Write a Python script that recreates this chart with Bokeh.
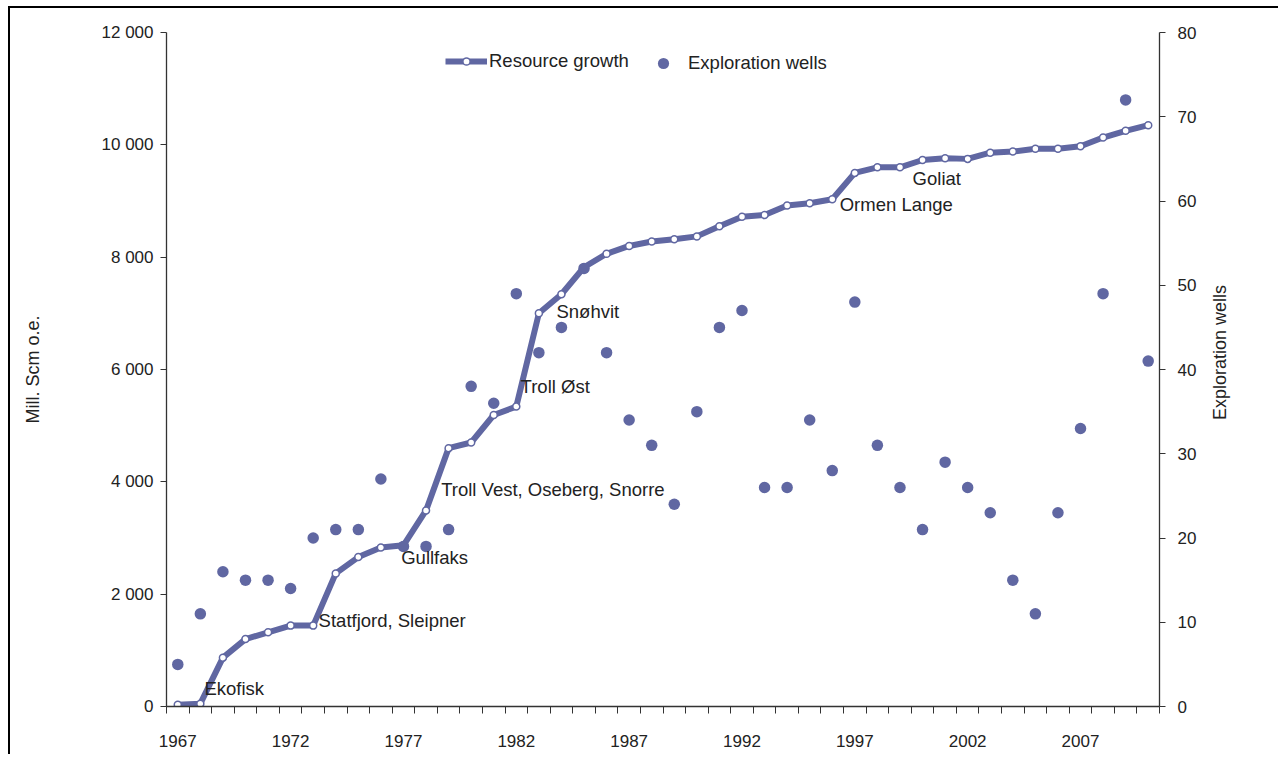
import math
from bokeh.plotting import figure
from bokeh.models import (Range1d, LinearAxis, FixedTicker, Legend, LegendItem,
                          ColumnDataSource, Label)
from bokeh.embed import file_html
from bokeh.resources import INLINE
from bokeh.core.properties import value

# ---------------- data ----------------
years = list(range(1967, 2011))
resource_growth = [30, 50, 870, 1200, 1320, 1440, 1440, 2370, 2660, 2830,
                   2870, 3490, 4600, 4700, 5190, 5340, 7000, 7340, 7820, 8060,
                   8200, 8280, 8320, 8370, 8550, 8720, 8750, 8920, 8960, 9030,
                   9500, 9600, 9600, 9730, 9760, 9750, 9860, 9880, 9930, 9930,
                   9975, 10130, 10250, 10350]
exploration_wells = [5, 11, 16, 15, 15, 14, 20, 21, 21, 27,
                     19, 19, 21, 38, 36, 49, 42, 45, 52, 42,
                     34, 31, 24, 35, 45, 47, 26, 26, 34, 28,
                     48, 31, 26, 21, 29, 26, 23, 15, 11, 23,
                     33, 49, 72, 41]

x_tick_years = [1967, 1972, 1977, 1982, 1987, 1992, 1997, 2002, 2007]
left_ticks = [0, 2000, 4000, 6000, 8000, 10000, 12000]
left_tick_labels = ["0", "2 000", "4 000", "6 000", "8 000", "10 000", "12 000"]
right_ticks = [0, 10, 20, 30, 40, 50, 60, 70, 80]

field_names = ["Ekofisk", "Statfjord, Sleipner", "Gullfaks",
               "Troll Vest, Oseberg, Snorre", "Troll Øst", "Snøhvit",
               "Ormen Lange", "Goliat"]
field_x = [1968.18, 1973.24, 1976.9, 1978.67, 1982.19, 1983.78, 1996.33, 1999.56]
field_y = [320, 1531, 2653, 3863, 5703, 7033, 8938, 9406]

# ---------------- styling ----------------
PURPLE = "#6067a2"
TXT = "#222222"
AX = "#333333"
FONT = "Liberation Sans"

p = figure(width=1270, height=748, output_backend="svg", toolbar_location=None,
           x_range=Range1d(1966.5, 2010.5), y_range=Range1d(0, 12000),
           min_border_left=156, min_border_top=24, min_border_right=121,
           min_border_bottom=50)
p.styles = {"margin-left": "8px", "margin-top": "6px",
            "border-left": "2px solid black", "border-top": "2px solid black"}
p.outline_line_color = None
p.xgrid.visible = False
p.ygrid.visible = False
p.extra_y_ranges = {"wells": Range1d(0, 80)}

src = ColumnDataSource(dict(year=years, res=resource_growth, wells=exploration_wells))

line_r = p.line("year", "res", source=src, line_color=PURPLE, line_width=6,
                line_join="round")
mark_r = p.scatter("year", "res", source=src, size=7, fill_color="white",
                   line_color=PURPLE, line_width=1.5)
wells_r = p.scatter("year", "wells", source=src, y_range_name="wells", size=11.5,
                    fill_color=PURPLE, line_color=PURPLE, line_width=0)

lab_src = ColumnDataSource(dict(x=field_x, y=field_y, t=field_names))
p.text("x", "y", text="t", source=lab_src, text_align="left",
       text_baseline="middle", text_font=value(FONT), text_font_size="18.5px",
       text_color=TXT)

# x axis
xa = p.xaxis[0]
xa.ticker = FixedTicker(ticks=x_tick_years,
                        minor_ticks=[y - 0.5 for y in years] + [years[-1] + 0.5])
xa.major_tick_out = 0
xa.major_tick_in = 0
xa.minor_tick_out = 7
xa.minor_tick_in = 0
xa.minor_tick_line_color = AX
xa.axis_line_color = AX
xa.axis_line_width = 1.3
xa.major_label_standoff = 21
xa.major_label_text_font = FONT
xa.major_label_text_font_size = "17px"
xa.major_label_text_color = TXT

# left axis
ya = p.yaxis[0]
ya.ticker = FixedTicker(ticks=left_ticks)
ya.major_label_overrides = {t: l for t, l in zip(left_ticks, left_tick_labels)}
ya.major_tick_out = 6
ya.major_tick_in = 0
ya.minor_tick_out = 0
ya.minor_tick_in = 0
ya.major_tick_line_color = AX
ya.axis_line_color = AX
ya.axis_line_width = 1.3
ya.major_label_standoff = 7
ya.major_label_text_font = FONT
ya.major_label_text_font_size = "17px"
ya.major_label_text_color = TXT
ya.axis_label = "Mill. Scm o.e."
ya.axis_label_text_font = FONT
ya.axis_label_text_font_size = "18px"
ya.axis_label_text_font_style = "normal"
ya.axis_label_text_color = TXT
ya.axis_label_standoff = 56

# right axis
ra = LinearAxis(y_range_name="wells", ticker=FixedTicker(ticks=right_ticks))
ra.major_tick_out = 6
ra.major_tick_in = 0
ra.minor_tick_out = 0
ra.minor_tick_in = 0
ra.major_tick_line_color = AX
ra.axis_line_color = AX
ra.axis_line_width = 1.3
ra.major_label_standoff = 12
ra.major_label_text_font = FONT
ra.major_label_text_font_size = "17px"
ra.major_label_text_color = TXT
p.add_layout(ra, "right")

# right axis title (reads bottom-to-top), placed in the right side panel
p.add_layout(Label(x=20, y=354, x_units="screen", y_units="screen",
                   text="Exploration wells", angle=math.pi / 2,
                   text_align="center", text_baseline="middle",
                   text_font=FONT, text_font_size="18px", text_color=TXT),
             "right")

# legends
leg1 = Legend(items=[LegendItem(label="Resource growth", renderers=[line_r, mark_r])],
              orientation="horizontal", location=(279, 634))
leg2 = Legend(items=[LegendItem(label="Exploration wells", renderers=[wells_r])],
              orientation="horizontal", location=(476, 629))
for lg, gh, so in ((leg1, 18, 2), (leg2, 28, 4)):
    lg.border_line_color = None
    lg.background_fill_alpha = 0
    lg.padding = 0
    lg.margin = 0
    lg.spacing = 0
    lg.glyph_width = 42
    lg.glyph_height = gh
    lg.label_height = gh
    lg.label_standoff = so
    lg.label_text_font = FONT
    lg.label_text_font_size = "18.5px"
    lg.label_text_color = TXT
    p.add_layout(lg)

open("out.html", "w").write(file_html(p, INLINE))
